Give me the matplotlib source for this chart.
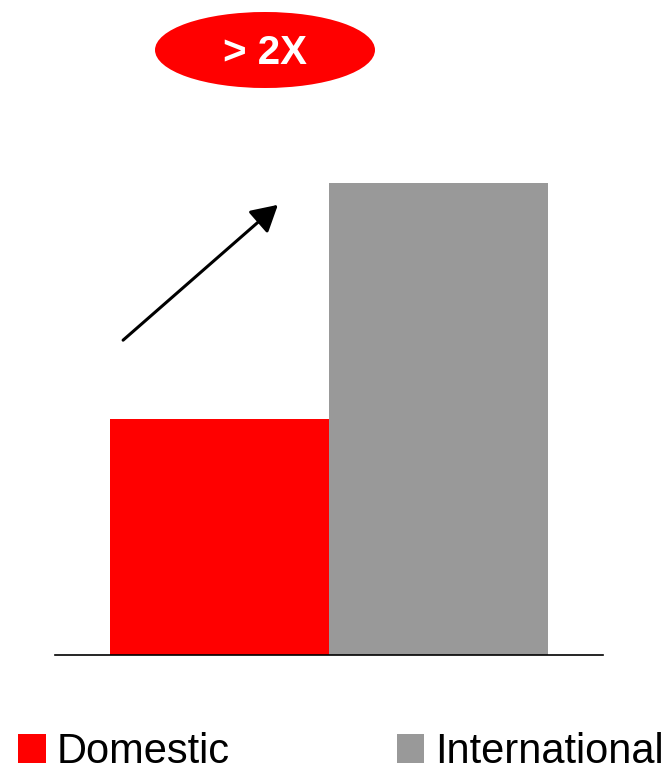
import matplotlib
matplotlib.use("Agg")
import matplotlib.pyplot as plt
from matplotlib.patches import Ellipse

categories = ["Domestic", "International"]
values = [1.0, 2.0]
colors = ["#ff0000", "#999999"]
badge_text = "> 2X"

plt.rcParams["font.family"] = ["Liberation Sans", "DejaVu Sans"]

W, H = 665, 765
fig = plt.figure(figsize=(W / 100, H / 100), dpi=100)
ax = fig.add_axes([55 / W, (H - 655) / H, 548 / W, 472 / H])

x = list(range(len(categories)))
ax.bar(x, values, width=1.0, color=colors, label=categories, align="center")
ax.set_xlim(-0.749, 1.753)
ax.set_ylim(0, max(values))
for s in ["top", "right", "left"]:
    ax.spines[s].set_visible(False)
ax.spines["bottom"].set_linewidth(1.2)
ax.set_xticks([])
ax.set_yticks([])

# badge
ell = Ellipse((265 / W, 1 - 50 / H), 220 / W, 76 / H, transform=fig.transFigure,
              facecolor="#ff0000", edgecolor="none")
fig.patches.append(ell)
fig.text(265 / W, 1 - 53 / H, badge_text, color="white", fontsize=29,
         fontweight="bold", ha="center", va="center")

# arrow
fig.add_artist(matplotlib.patches.FancyArrowPatch(
    (121 / W, 1 - 342 / H), (280 / W, 1 - 203 / H), transform=fig.transFigure,
    arrowstyle="-|>,head_length=0.8,head_width=0.45", mutation_scale=20,
    color="black", linewidth=2.2))

fig.legend(loc="upper left", bbox_to_anchor=(18 / W, 1 - 732 / H), ncol=2,
           frameon=False, fontsize=30, handlelength=0.67, handleheight=0.69,
           handletextpad=0.26, columnspacing=4.0, borderpad=0, borderaxespad=0)

fig.savefig("out.png", dpi=100)
